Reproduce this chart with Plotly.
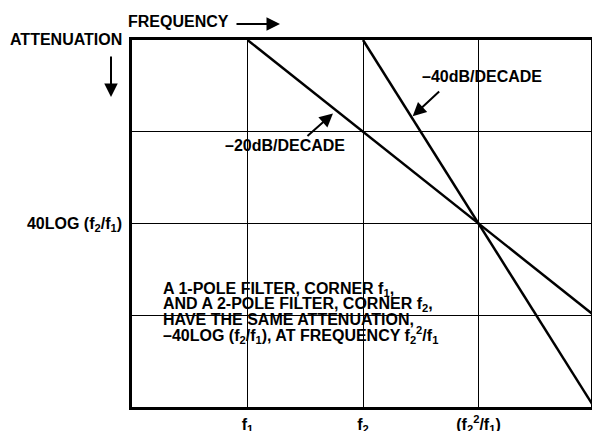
import plotly.graph_objects as go

# ---- data (x in decades from origin, attenuation in 20 dB units, downward) ----
pole1_x = [1, 4]
pole1_y = [0, 3]
pole2_x = [2, 4]
pole2_y = [0, 4]

x_tickvals = [1, 2, 3]
x_ticktext = ["f<sub>1</sub>", "f<sub>2</sub>", "(f<sub>2</sub><sup>2</sup>/f<sub>1</sub>)"]
y_tickvals = [1, 2, 3]
y_ticktext = ["", "40LOG (f<sub>2</sub>/f<sub>1</sub>)", ""]

note_lines = [
    "A 1-POLE FILTER, CORNER f<sub>1</sub>,",
    "AND A 2-POLE FILTER, CORNER f<sub>2</sub>,",
    "HAVE THE SAME ATTENUATION,",
    "\u201340LOG (f<sub>2</sub>/f<sub>1</sub>), AT FREQUENCY f<sub>2</sub><sup>2</sup>/f<sub>1</sub>",
]

FONT = "Liberation Sans, Arial, Helvetica, sans-serif"
FS = 16
W, H = 592, 431
L, T, PW, PH = 132, 40, 459, 367


def px(xp):
    return (xp - L) / PW


def py(yp):
    return (T + PH - yp) / PH


fig = go.Figure()
fig.add_trace(go.Scatter(x=pole1_x, y=pole1_y, mode="lines",
                         line=dict(color="black", width=2.5), showlegend=False))
fig.add_trace(go.Scatter(x=pole2_x, y=pole2_y, mode="lines",
                         line=dict(color="black", width=2.5), showlegend=False))

AH = dict(showarrow=True, arrowhead=2, arrowwidth=2, arrowsize=1.35, arrowcolor="black")
ann = []
ann.append(dict(text="<b>FREQUENCY</b>", xref="paper", yref="paper", x=px(126), y=py(21),
                xanchor="left", yanchor="middle", showarrow=False))
ann.append(dict(text="", xref="paper", yref="paper", x=px(280), y=py(24), ax=-45, ay=0, **AH))
ann.append(dict(text="<b>ATTENUATION</b>", xref="paper", yref="paper", x=px(124), y=py(39),
                xanchor="right", yanchor="middle", showarrow=False))
ann.append(dict(text="", xref="paper", yref="paper", x=px(111), y=py(97), ax=0, ay=-42, **AH))
ann.append(dict(text="<b>\u201340dB/DECADE</b>", x=3.026, y=0.403, xanchor="center",
                yanchor="middle", showarrow=False))
ann.append(dict(text="", x=2.43, y=0.83, ax=28, ay=-26, **AH))
ann.append(dict(text="<b>\u201320dB/DECADE</b>", x=1.325, y=1.155, xanchor="center",
                yanchor="middle", showarrow=False))
ann.append(dict(text="", x=1.74, y=0.80, ax=-27, ay=24, **AH))
line_y = [2.698, 2.870, 3.043, 3.215]
pad = "<sup>\u00a0</sup><sub>\u00a0</sub>"  # equalise line boxes
for t, yv in zip(note_lines, line_y):
    ann.append(dict(text="<b>" + t + pad + "</b>", x=0.251, y=yv, xanchor="left",
                    yanchor="middle", showarrow=False))

fig.update_layout(
    template="none",
    width=W, height=H,
    margin=dict(l=L, r=W - L - PW, t=T, b=H - T - PH, pad=0),
    paper_bgcolor="white", plot_bgcolor="white",
    font=dict(family=FONT, size=FS, color="black"),
    annotations=ann,
    xaxis=dict(range=[0, PW / 115.5], tickvals=x_tickvals,
               ticktext=["<b>" + t + "</b>" for t in x_ticktext],
               showgrid=True, gridcolor="black", gridwidth=1.2, zeroline=False,
               showline=True, linecolor="black", linewidth=2.5, mirror=True,
               ticks="", ticklabelstandoff=1, automargin=False, fixedrange=True),
    yaxis=dict(range=[4, 0], tickvals=y_tickvals,
               ticktext=["<b>" + t + "</b>" if t else "" for t in y_ticktext],
               showgrid=True, gridcolor="black", gridwidth=1.2, zeroline=False,
               showline=True, linecolor="black", linewidth=2.5, mirror=True,
               ticks="", ticklabelstandoff=4, automargin=False, fixedrange=True),
)

fig.write_html(
    "out.html",
    config={"displayModeBar": False},
    post_script="document.body.style.margin='0';document.body.style.padding='0';"
                "document.body.style.overflow='hidden';",
)
